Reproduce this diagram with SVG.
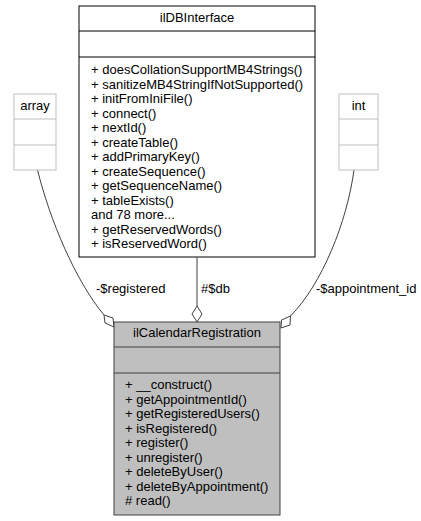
<svg xmlns="http://www.w3.org/2000/svg" width="421" height="521" viewBox="0 0 421 521">
<style>
text{font-family:"Liberation Sans",Arial,sans-serif;font-size:13px;fill:#000}
.c{text-anchor:middle}
.box{fill:#fff;stroke:#000;stroke-width:1}
.gray{fill:#fff;stroke:#bfbfbf;stroke-width:1}
.main{fill:#bfbfbf;stroke:#404040;stroke-width:1}
.edge{fill:none;stroke:#404040;stroke-width:1}
.dia{fill:#fff;stroke:#404040;stroke-width:1}
</style>
<rect width="421" height="521" fill="#fff"/>
<g id="edges">
<path class="edge" d="M197,257.5 L197,306"/>
<polygon class="dia" points="197,306 202,314 197,322 192,314"/>
<text x="201" y="293">#$db</text>
<path class="edge" d="M37.5,170 C50,220 75,280 104,315"/>
<polygon class="dia" points="104,315 113,318 114,327 105,323"/>
<text x="96" y="293">-$registered</text>
<path class="edge" d="M354,170 C347,222 322,284 290.5,316"/>
<polygon class="dia" points="290.5,316 281.5,320 281,328 290,325"/>
<text x="316" y="293">-$appointment_id</text>
</g>
<g id="ilDBInterface">
<rect class="box" x="79" y="6" width="236" height="251"/>
<line class="box" x1="79" y1="31" x2="315" y2="31"/>
<line class="box" x1="79" y1="57" x2="315" y2="57"/>
<text class="c" x="197" y="22">ilDBInterface</text>
<text x="91" y="74">+ doesCollationSupportMB4Strings()</text>
<text x="91" y="88.5">+ sanitizeMB4StringIfNotSupported()</text>
<text x="91" y="103">+ initFromIniFile()</text>
<text x="91" y="117.5">+ connect()</text>
<text x="91" y="132">+ nextId()</text>
<text x="91" y="146.5">+ createTable()</text>
<text x="91" y="161">+ addPrimaryKey()</text>
<text x="91" y="175.5">+ createSequence()</text>
<text x="91" y="190">+ getSequenceName()</text>
<text x="91" y="204.5">+ tableExists()</text>
<text x="91" y="219">and 78 more...</text>
<text x="91" y="233.5">+ getReservedWords()</text>
<text x="91" y="248">+ isReservedWord()</text>
</g>
<g id="array">
<rect class="gray" x="14" y="94" width="42" height="76"/>
<line class="gray" x1="14" y1="119" x2="56" y2="119"/>
<line class="gray" x1="14" y1="145" x2="56" y2="145"/>
<text class="c" x="35" y="110">array</text>
</g>
<g id="int">
<rect class="gray" x="339" y="94" width="39" height="76"/>
<line class="gray" x1="339" y1="119" x2="378" y2="119"/>
<line class="gray" x1="339" y1="145" x2="378" y2="145"/>
<text class="c" x="358.5" y="110">int</text>
</g>
<g id="ilCalendarRegistration">
<rect class="main" x="114" y="322" width="166" height="193"/>
<line class="main" x1="114" y1="347" x2="280" y2="347"/>
<line class="main" x1="114" y1="373" x2="280" y2="373"/>
<text class="c" x="197" y="337">ilCalendarRegistration</text>
<text x="125" y="389">+ __construct()</text>
<text x="125" y="403.5">+ getAppointmentId()</text>
<text x="125" y="418">+ getRegisteredUsers()</text>
<text x="125" y="432.5">+ isRegistered()</text>
<text x="125" y="447">+ register()</text>
<text x="125" y="461.5">+ unregister()</text>
<text x="125" y="476">+ deleteByUser()</text>
<text x="125" y="490.5">+ deleteByAppointment()</text>
<text x="125" y="505"># read()</text>
</g>
</svg>
